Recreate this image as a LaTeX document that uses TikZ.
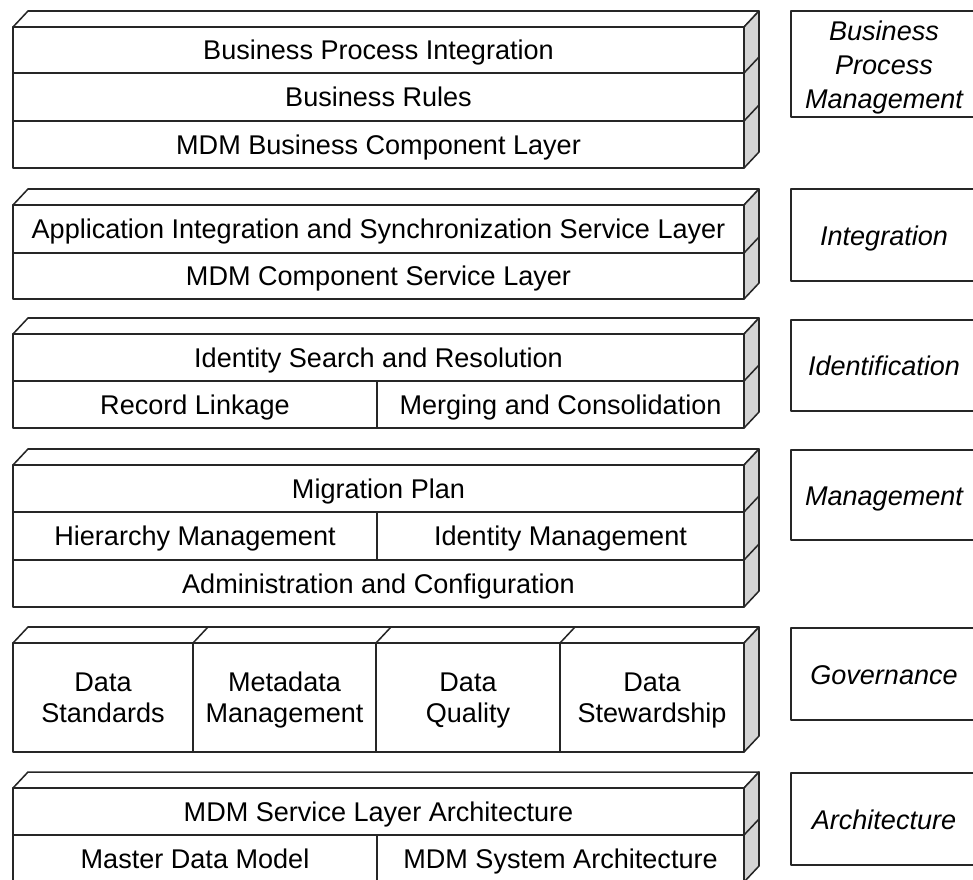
\documentclass[tikz,border=0pt]{standalone}
\usepackage{fontspec}
\setmainfont{Liberation Sans}
\usetikzlibrary{fit}
\newcommand\mdmslab[2]{%
  \draw[topf] (13,#1) -- (28,#1-16) -- (759,#1-16) -- (744,#1) -- cycle;
  \draw[sideface] (744,#1) -- (759,#1-16) -- (759,#2-16) -- (744,#2) -- cycle;}
\newcommand\mdmsep[1]{\draw[ln] (744,#1) -- (759,#1-16);}
% #1 name, #2 corner a, #3 corner b, #4 text
\newcommand\mdmcell[4]{%
  \node[cell, fit={(#2)(#3)}] (#1) {};
  \node[celltext] (#1-t) at (#1.center) {\strut#4\strut};}
\newcommand\mdmlab[4]{%
  \node[lab, fit={(#2)(#3)}] (#1) {};
  \node[labtext] (#1-t) at (#1.center) {\strut#4\strut};}
\begin{document}
\begin{tikzpicture}[x=0.75pt,y=-0.75pt,
  ln/.style={draw=black!85, line width=1.15pt, line join=round},
  cell/.style={ln, inner sep=0pt},
  celltext/.style={inner sep=0pt, yshift=-2.4pt, font=\fontsize{20.3}{23.6}\selectfont, align=center},
  lab/.style={ln, inner sep=0pt},
  labtext/.style={inner sep=0pt, yshift=-2.6pt, font=\itshape\fontsize{20.3}{25.5}\selectfont, align=center},
  sideface/.style={ln, fill=black!17},
  topf/.style={ln, fill=white}]
\useasboundingbox (0,0) rectangle (973,879);

% ---------- Block 1 ----------
\mdmslab{27}{168}
\mdmcell{bpi}{13,27}{744,73}{Business Process Integration}
\mdmcell{br}{13,73}{744,121}{Business Rules}
\mdmcell{mbcl}{13,121}{744,168}{MDM Business Component Layer}
\mdmsep{73}\mdmsep{121}

% ---------- Block 2 ----------
\mdmslab{205}{299}
\mdmcell{aissl}{13,205}{744,253}{Application Integration and Synchronization Service Layer}
\mdmcell{mcsl}{13,253}{744,299}{MDM Component Service Layer}
\mdmsep{253}

% ---------- Block 3 ----------
\mdmslab{334}{428}
\mdmcell{isr}{13,334}{744,381}{Identity Search and Resolution}
\mdmcell{rl}{13,381}{377,428}{Record Linkage}
\mdmcell{mc}{377,381}{744,428}{Merging and Consolidation}
\mdmsep{381}

% ---------- Block 4 ----------
\mdmslab{465}{607}
\mdmcell{mp}{13,465}{744,512}{Migration Plan}
\mdmcell{hm}{13,512}{377,560}{Hierarchy Management}
\mdmcell{im}{377,512}{744,560}{Identity Management}
\mdmcell{ac}{13,560}{744,607}{Administration and Configuration}
\mdmsep{512}\mdmsep{560}

% ---------- Block 5 ----------
\mdmslab{643}{752}
\draw[ln] (193,643) -- (208,627);
\draw[ln] (376,643) -- (391,627);
\draw[ln] (560,643) -- (575,627);
\mdmcell{ds}{13,643}{193,752}{Data\\Standards}
\mdmcell{mm}{193,643}{376,752}{Metadata\\Management}
\mdmcell{dq}{376,643}{560,752}{Data\\Quality}
\mdmcell{dst}{560,643}{744,752}{Data\\Stewardship}

% ---------- Block 6 ----------
\mdmslab{788}{882}
\mdmcell{msla}{13,788}{744,835}{MDM Service Layer Architecture}
\mdmcell{mdm}{13,835}{377,882}{Master Data Model}
\mdmcell{msa}{377,835}{744,882}{MDM System Architecture}
\mdmsep{835}

% ---------- Right labels ----------
\mdmlab{lbpm}{791,11}{977,117}{Business\\Process\\Management}
\mdmlab{lint}{791,189}{977,281}{Integration}
\mdmlab{lid}{791,320}{977,411}{Identification}
\mdmlab{lman}{791,450}{977,540}{Management}
\mdmlab{lgov}{791,628}{977,720}{Governance}
\mdmlab{larch}{791,773}{977,865}{Architecture}
\end{tikzpicture}
\end{document}
